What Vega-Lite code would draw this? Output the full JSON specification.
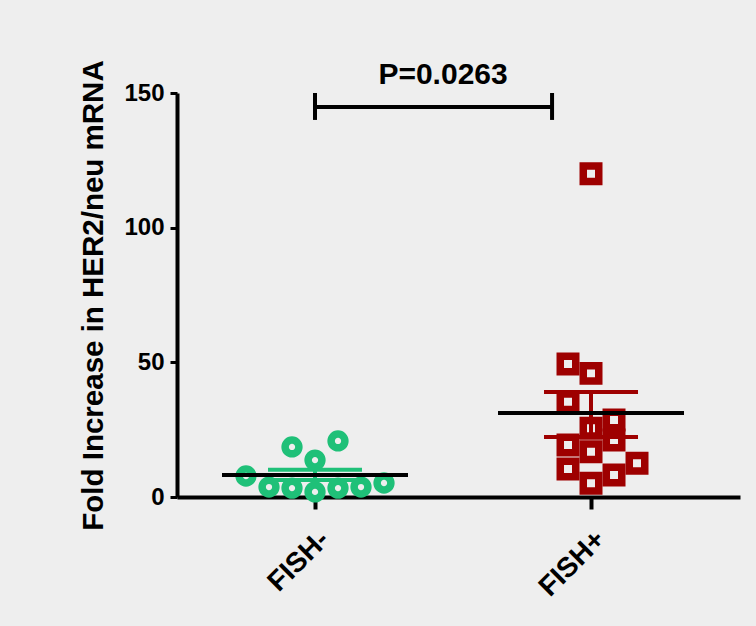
{
  "$schema": "https://vega.github.io/schema/vega-lite/v6.json",
  "width": 563,
  "height": 404,
  "autosize": {"type": "none"},
  "padding": {"left": 177, "top": 93, "right": 16, "bottom": 129},
  "background": "#eeeeee",
  "config": {
    "view": {"stroke": null},
    "font": "Liberation Sans",
    "axis": {"grid": false, "domainColor": "black", "tickColor": "black", "labelColor": "black", "titleColor": "black"}
  },
  "datasets": {
    "points": [
      {"group": "FISH-", "slot": -3, "value": 7.8},
      {"group": "FISH-", "slot": -2, "value": 3.7},
      {"group": "FISH-", "slot": -1, "value": 3.3},
      {"group": "FISH-", "slot": -1, "value": 18.6},
      {"group": "FISH-", "slot": 0, "value": 1.9},
      {"group": "FISH-", "slot": 0, "value": 13.7},
      {"group": "FISH-", "slot": 1, "value": 3.3},
      {"group": "FISH-", "slot": 1, "value": 20.8},
      {"group": "FISH-", "slot": 2, "value": 3.7},
      {"group": "FISH-", "slot": 3, "value": 5.2},
      {"group": "FISH+", "slot": -1, "value": 49.4},
      {"group": "FISH+", "slot": -1, "value": 35.4},
      {"group": "FISH+", "slot": -1, "value": 19.3},
      {"group": "FISH+", "slot": -1, "value": 10.4},
      {"group": "FISH+", "slot": 0, "value": 120},
      {"group": "FISH+", "slot": 0, "value": 45.9},
      {"group": "FISH+", "slot": 0, "value": 25.5},
      {"group": "FISH+", "slot": 0, "value": 16.8},
      {"group": "FISH+", "slot": 0, "value": 5.1},
      {"group": "FISH+", "slot": 1, "value": 28.6},
      {"group": "FISH+", "slot": 1, "value": 21.2},
      {"group": "FISH+", "slot": 1, "value": 8.2},
      {"group": "FISH+", "slot": 2, "value": 12.5}
    ],
    "summary": [
      {"group": "FISH-", "mean": 8.2, "lo": 6.3, "hi": 10.1},
      {"group": "FISH+", "mean": 31.2, "lo": 22.3, "hi": 39.0}
    ],
    "bracket": [
      {"label": "P=0.0263", "start": 1.0, "end": 1.859, "mid": 1.464, "y": 144.8, "capLo": 140, "capHi": 150, "textY": 153.5}
    ]
  },
  "layer": [
    {
      "layer": [
        {
          "data": {"name": "points"},
          "mark": {"type": "point", "filled": false, "strokeWidth": 7.5, "opacity": 1},
          "encoding": {
            "x": {"field": "group", "type": "nominal",
              "scale": {"type": "band", "domain": ["FISH-", "FISH+"], "paddingInner": 0, "paddingOuter": 0.0199, "align": 0},
              "axis": {"title": null, "domainWidth": 4, "tickWidth": 4, "tickSize": 12, "labelAngle": -45, "labelFontSize": 28, "labelFontWeight": "bold", "labelPadding": 16}},
            "xOffset": {"field": "slot", "type": "ordinal",
              "scale": {"domain": [-6, -5, -4, -3, -2, -1, 0, 1, 2, 3, 4, 5, 6], "paddingInner": 0, "paddingOuter": 0}},
            "y": {"field": "value", "type": "quantitative",
              "scale": {"domain": [0, 150], "nice": false},
              "axis": {"title": "Fold Increase in HER2/neu mRNA", "values": [0, 50, 100, 150], "domainWidth": 4, "tickWidth": 3, "tickSize": 7, "labelFontSize": 24, "labelFontWeight": "bold", "labelPadding": 6, "titleFontSize": 29.5, "titleFontWeight": "bold", "titlePadding": 15}},
            "shape": {"field": "group", "type": "nominal", "scale": {"domain": ["FISH-", "FISH+"], "range": ["circle", "square"]}, "legend": null},
            "size": {"field": "group", "type": "nominal", "scale": {"domain": ["FISH-", "FISH+"], "range": [190, 240]}, "legend": null},
            "color": {"field": "group", "type": "nominal", "scale": {"domain": ["FISH-", "FISH+"], "range": ["#1fc078", "#9e0000"]}, "legend": null}
          }
        },
        {
          "data": {"name": "summary"},
          "mark": {"type": "rule", "strokeWidth": 4, "opacity": 1},
          "encoding": {
            "x": {"field": "group", "type": "nominal"},
            "y": {"field": "lo", "type": "quantitative"},
            "y2": {"field": "hi"},
            "color": {"field": "group", "type": "nominal", "legend": null}
          }
        },
        {
          "data": {"name": "summary"},
          "mark": {"type": "tick", "orient": "horizontal", "size": 94, "thickness": 4, "opacity": 1},
          "encoding": {
            "x": {"field": "group", "type": "nominal"},
            "y": {"field": "lo", "type": "quantitative"},
            "color": {"field": "group", "type": "nominal", "legend": null}
          }
        },
        {
          "data": {"name": "summary"},
          "mark": {"type": "tick", "orient": "horizontal", "size": 94, "thickness": 4, "opacity": 1},
          "encoding": {
            "x": {"field": "group", "type": "nominal"},
            "y": {"field": "hi", "type": "quantitative"},
            "color": {"field": "group", "type": "nominal", "legend": null}
          }
        },
        {
          "data": {"name": "summary"},
          "mark": {"type": "tick", "orient": "horizontal", "size": 186, "thickness": 4, "color": "black", "opacity": 1},
          "encoding": {
            "x": {"field": "group", "type": "nominal"},
            "y": {"field": "mean", "type": "quantitative"}
          }
        }
      ]
    },
    {
      "data": {"name": "bracket"},
      "layer": [
        {
          "mark": {"type": "rule", "strokeWidth": 4, "color": "black"},
          "encoding": {
            "x": {"field": "start", "type": "quantitative", "scale": {"domain": [0.5, 2.54], "nice": false, "zero": false}, "axis": null},
            "x2": {"field": "end"},
            "y": {"field": "y", "type": "quantitative"}
          }
        },
        {
          "mark": {"type": "rule", "strokeWidth": 4, "color": "black"},
          "encoding": {
            "x": {"field": "start", "type": "quantitative", "axis": null},
            "y": {"field": "capLo", "type": "quantitative"},
            "y2": {"field": "capHi"}
          }
        },
        {
          "mark": {"type": "rule", "strokeWidth": 4, "color": "black"},
          "encoding": {
            "x": {"field": "end", "type": "quantitative", "axis": null},
            "y": {"field": "capLo", "type": "quantitative"},
            "y2": {"field": "capHi"}
          }
        },
        {
          "mark": {"type": "text", "fontSize": 30, "font": "Liberation Sans", "fontWeight": "bold", "color": "black", "baseline": "alphabetic", "align": "center"},
          "encoding": {
            "x": {"field": "mid", "type": "quantitative", "axis": null},
            "y": {"field": "textY", "type": "quantitative"},
            "text": {"field": "label"}
          }
        }
      ]
    }
  ],
  "resolve": {"scale": {"x": "independent"}}
}
